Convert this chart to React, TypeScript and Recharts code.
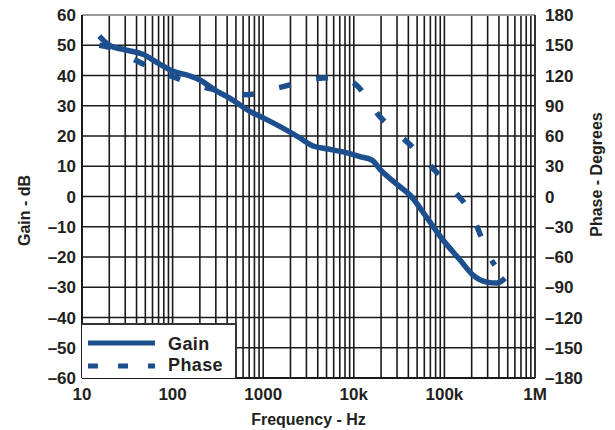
import React from "react";
import {
  ComposedChart,
  Line,
  XAxis,
  YAxis,
  CartesianGrid,
  ReferenceLine,
} from "recharts";

// frequency (Hz) and gain (dB)
const gainFreq = [15.5, 20, 30, 47, 70, 100, 150, 200, 300, 400, 770, 1000, 2500, 3500, 5000, 8000, 11700, 15900, 19500, 30000, 41700, 64000, 96500, 149000, 207000, 295000, 381000, 467000];
const gainDb = [53, 50, 48.5, 47, 44, 41.5, 40, 38.5, 35, 33, 27.6, 26, 19.5, 16.8, 15.8, 14.6, 13.2, 12, 9, 4, 0.5, -7, -14.4, -21, -26, -28.3, -28.6, -27];

// phase (degrees), right axis
const phaseFreq = [15.5, 20, 43.6, 106, 258, 660, 1500, 3900, 6000, 9800, 19500, 44500, 96000, 200000, 330000, 360000];
const phaseDeg = [150, 148, 133, 118, 107, 101, 108, 117, 118, 113, 79, 49, 17, -18, -63, -68];

const xTicks = [10, 100, 1000, 10000, 100000, 1000000];
const xTickLabels = ["10", "100", "1000", "10k", "100k", "1M"];
const gainTicks = [-60, -50, -40, -30, -20, -10, 0, 10, 20, 30, 40, 50, 60];
const phaseTicks = [-180, -150, -120, -90, -60, -30, 0, 30, 60, 90, 120, 150, 180];
const minorSteps = [2, 3, 4, 5, 6, 7, 8, 9];

const gainData = gainFreq.map((f, i) => ({ f, gain: gainDb[i] }));
const phaseData = phaseFreq.map((f, i) => ({ f, phase: phaseDeg[i] }));
const vLines: number[] = [];
xTicks.slice(0, -1).forEach((d) => minorSteps.forEach((m) => vLines.push(d * m)));
vLines.push(...xTicks.slice(1, -1));

const BLUE = "#1d4f8e";
const GRID = "#1a1a1a";
const FONT = "'Liberation Sans', Arial, sans-serif";

const minus = (v: number) => (v < 0 ? "\u2013" + Math.abs(v) : String(v));

const tickStyle = { fontFamily: FONT, fontWeight: 700, fontSize: 17, fill: "#231f20" };

// rotated axis titles; left one sits a bit below the plot centre, right one above
const SideTitle = ({ viewBox, value, side }: any) => {
  const { x, y, width, height } = viewBox;
  const cx = side === "left" ? x + 24 : x + width - 19;
  const cy = side === "left" ? y + height / 2 + 14 : y + height / 2 - 22;
  return (
    <text
      x={cx}
      y={cy}
      transform={`rotate(-90 ${cx} ${cy})`}
      textAnchor="middle"
      dominantBaseline="central"
      style={{ ...tickStyle, fontSize: 16 }}
    >
      {value}
    </text>
  );
};

const legendText = { ...tickStyle, fontSize: 18, letterSpacing: 0.4 };

const LegendBox = () => (
  <div
    style={{
      position: "absolute",
      left: 82,
      top: 323,
      width: 153,
      height: 53,
      background: "#fff",
      border: "2px solid #333",
      borderBottom: "none",
      borderLeft: "none",
    }}
  >
    <svg width={153} height={55} style={{ position: "absolute", left: 0, top: 0 }}>
      <line x1={6} y1={18} x2={73} y2={18} stroke={BLUE} strokeWidth={5} />
      <line x1={6} y1={41} x2={73} y2={41} stroke={BLUE} strokeWidth={5} strokeDasharray="10 20" />
      <text x={86} y={25} style={legendText}>Gain</text>
      <text x={86} y={46} style={legendText}>Phase</text>
    </svg>
  </div>
);

export default function App() {
  return (
    <div style={{ position: "absolute", left: 0, top: 0, width: 615, height: 430, background: "#fff" }}>
      <ComposedChart width={615} height={430} margin={{ top: 15, right: 0, bottom: 0, left: 0 }}>
        <CartesianGrid yAxisId="left" vertical={false} stroke={GRID} strokeWidth={1.6} />
        <XAxis
          dataKey="f"
          type="number"
          scale="log"
          domain={[10, 1000000]}
          ticks={xTicks}
          allowDataOverflow
          height={52}
          tickSize={0}
          tickMargin={10}
          tickLine={false}
          axisLine={{ stroke: GRID, strokeWidth: 2 }}
          tick={tickStyle}
          tickFormatter={(v: number) => xTickLabels[xTicks.indexOf(v)]}
          label={{ value: "Frequency - Hz", position: "insideBottom", offset: 5, style: { ...tickStyle, fontSize: 16 } }}
        />
        <YAxis
          yAxisId="left"
          orientation="left"
          width={82}
          domain={[-60, 60]}
          ticks={gainTicks}
          tickSize={0}
          tickMargin={6}
          tickLine={false}
          axisLine={{ stroke: GRID, strokeWidth: 2 }}
          tick={tickStyle}
          tickFormatter={minus}
          label={<SideTitle value="Gain - dB" side="left" />}
        />
        <YAxis
          yAxisId="right"
          orientation="right"
          width={80}
          domain={[-180, 180]}
          ticks={phaseTicks}
          tickSize={0}
          tickMargin={10}
          tickLine={false}
          axisLine={{ stroke: "#333", strokeWidth: 2 }}
          tick={{ ...tickStyle, textAnchor: "start" }}
          tickFormatter={minus}
          label={<SideTitle value="Phase - Degrees" side="right" />}
        />
        {vLines.map((v) => (
          <ReferenceLine key={v} x={v} yAxisId="left" stroke={GRID} strokeWidth={1.6} />
        ))}
        <ReferenceLine y={60} yAxisId="left" stroke="#999" strokeWidth={2} />
        <Line
          data={gainData}
          yAxisId="left"
          dataKey="gain"
          type="monotone"
          stroke={BLUE}
          strokeWidth={5.5}
          dot={false}
          isAnimationActive={false}
        />
        <Line
          data={phaseData}
          yAxisId="right"
          dataKey="phase"
          type="monotone"
          stroke={BLUE}
          strokeWidth={5.5}
          strokeDasharray="12 26"
          dot={false}
          isAnimationActive={false}
        />
      </ComposedChart>
      <LegendBox />
    </div>
  );
}
